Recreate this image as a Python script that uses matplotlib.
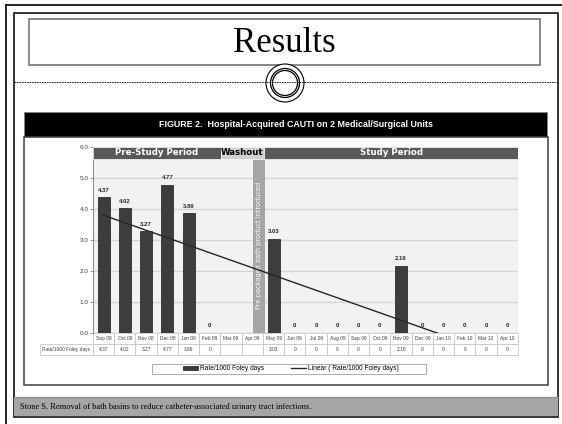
import numpy as np
import matplotlib
matplotlib.use('Agg')
import matplotlib.pyplot as plt
from matplotlib.patches import Rectangle, Circle

plt.rcParams['font.family'] = ['Liberation Sans', 'DejaVu Sans']

# data
months = ['Sep 08', 'Oct 08', 'Nov 08', 'Dec 08', 'Jan 09', 'Feb 09', 'Mar 09', 'Apr 09',
          'May 09', 'Jun 09', 'Jul 09', 'Aug 09', 'Sep 09', 'Oct 09', 'Nov 09', 'Dec 09',
          'Jan 10', 'Feb 10', 'Mar 10', 'Apr 10']
rates = [4.37, 4.02, 3.27, 4.77, 3.86, 0, None, None, 3.03, 0,
         0, 0, 0, 0, 2.16, 0, 0, 0, 0, 0]
periods = ['Pre-Study Period', 'Washout', 'Study Period']
period_edges = [-0.5, 5.52, 7.55, 19.5]
yticks = [0, 1, 2, 3, 4, 5, 6]
series_name = 'Rate/1000 Foley days'
trend_name = 'Linear ( Rate/1000 Foley days)'

W, H = 562, 424
fig = plt.figure(figsize=(W / 100, H / 100), dpi=100)

# slide background, drawn in pixel units (y down)
bg = fig.add_axes([0, 0, 1, 1])
bg.set_xlim(0, W)
bg.set_ylim(H, 0)
bg.axis('off')

bg.plot([6, W], [5, 5], color='black', lw=1.2)
bg.plot([6, 6], [5, H], color='black', lw=1.2)
bg.add_patch(Rectangle((14, 13), 544, 404, facecolor='white', edgecolor='black', lw=1.1))
bg.add_patch(Rectangle((29, 19), 511, 46, facecolor='white', edgecolor='#7f7f7f', lw=1.3))
bg.text(284.5, 43, 'Results', family='Liberation Serif', fontsize=25,
        ha='center', va='center', color='black')
bg.plot([14, 558], [82, 82], color='black', lw=0.6, dashes=(2, 1))
bg.add_patch(Circle((285, 83), 19, facecolor='white', edgecolor='black', lw=0.8))
bg.add_patch(Circle((285, 83), 14.5, facecolor='none', edgecolor='black', lw=0.9))
bg.add_patch(Circle((285, 83), 12.5, facecolor='none', edgecolor='black', lw=0.9))

bg.add_patch(Rectangle((24, 112), 523, 25, facecolor='black', edgecolor='#7f7f7f', lw=0.6))
bg.text(296, 124.5, 'FIGURE 2.  Hospital-Acquired CAUTI on 2 Medical/Surgical Units',
        color='white', fontweight='bold', fontsize=6.4, ha='center', va='center')
bg.add_patch(Rectangle((24, 137), 524, 248, facecolor='white', edgecolor='#404040', lw=1.1))

# legend frame
bg.add_patch(Rectangle((152, 364), 274, 10, facecolor='white', edgecolor='#a0a0a0', lw=0.6))

bg.add_patch(Rectangle((14, 397), 544, 19, facecolor='#a6a6a6', edgecolor='none'))
bg.plot([14, 558], [397, 397], color='#8c8c8c', lw=0.8)
bg.text(20, 407, 'Stone S. Removal of bath basins to reduce catheter-associated urinary tract infections.',
        family='Liberation Serif', fontsize=6.0, ha='left', va='center', color='black')

# chart axes
left, right, top, bottom = 93, 518, 146.7, 333
ax = fig.add_axes([left / W, 1 - bottom / H, (right - left) / W, (bottom - top) / H])
ax.set_facecolor('#f2f2f2')
ax.set_xlim(-0.5, 19.5)
ax.set_ylim(0, 6)
ax.set_axisbelow(True)
ax.yaxis.grid(True, color='#d4d4d4', lw=1.0)
ax.set_yticks(yticks)
ax.set_yticklabels([f'{t:.1f}' for t in yticks])
ax.tick_params(axis='y', length=2.2, width=0.6, color='#868686', pad=1,
               labelsize=4.6, labelcolor='#404040')
ax.set_xticks([])
for s in ['top', 'right', 'bottom']:
    ax.spines[s].set_visible(False)
ax.spines['left'].set_color('#868686')
ax.spines['left'].set_linewidth(0.7)

x = np.arange(len(months))
heights = np.array([np.nan if v is None else v for v in rates])

# washout marker strip
ax.axvspan(7.04, 7.59, ymin=0, ymax=5.6 / 6, color='#a5a5a5', lw=0, zorder=1)
ax.text(7.31, 2.82, 'Pre-packaged bath product introduced', rotation=90, color='white',
        fontsize=4.7, ha='center', va='center', family='DejaVu Sans', zorder=2)

bars = ax.bar(x, heights, width=0.56, color='#3d3d3d', edgecolor='#1a1a1a',
              lw=0.5, zorder=3, label=series_name)
for i, v in enumerate(rates):
    if v is not None:
        ax.text(i, v + 0.23, f'{v:g}', ha='center', va='center', fontsize=4.3,
                fontweight='bold', color='#262626', zorder=4)

# linear trendline (as Excel computes it over the plotted points)
idx = np.array([i for i, v in enumerate(rates) if v is not None])
vals = np.array([v for v in rates if v is not None])
slope, icpt = np.polyfit(idx + 1, vals, 1)
tx = np.array([0, len(months) - 1])
trend, = ax.plot(tx, slope * (tx + 1) + icpt, color='#262626', lw=1.0, zorder=5,
                 label=trend_name)

# period header bands
for k, name in enumerate(periods):
    x0, x1 = period_edges[k], period_edges[k + 1]
    washout = name == 'Washout'
    ax.add_patch(Rectangle((x0, 5.6), x1 - x0, 0.4,
                           facecolor='#d0d0d0' if washout else '#595959',
                           edgecolor='white', lw=0.5, zorder=6))
    ax.text((x0 + x1) / 2, 5.8, name, ha='center', va='center', fontsize=6.2,
            fontweight='bold', family='DejaVu Sans',
            color='black' if washout else 'white', zorder=7)

# data table below the axis
cw = (94 - 41) / (right - left)
rh = 11 / (bottom - top)
cells = [[''] + months, [series_name] + ['' if v is None else f'{v:g}' for v in rates]]
tbl = ax.table(cellText=cells, cellLoc='center', colWidths=[cw] + [1 / 20] * 20,
               bbox=[-cw, -2 * rh, 1 + cw, 2 * rh])
tbl.auto_set_font_size(False)
tbl.set_fontsize(3.5)
for (r, c), cell in tbl.get_celld().items():
    cell.set_edgecolor('#bfbfbf')
    cell.set_linewidth(0.5)
    cell.get_text().set_color('#404040')
    if r == 0 and c == 0:
        cell.visible_edges = ''
        cell.set_facecolor('none')

fig.legend(handles=[bars, trend], labels=[series_name, trend_name],
           loc='center', bbox_to_anchor=(291 / W, 1 - 369 / H),
           ncol=2, fontsize=4.8, frameon=False, borderpad=0.1,
           handlelength=2.3, handleheight=0.6, handletextpad=0.3, columnspacing=4.0)

fig.savefig('out.png', dpi=100)
